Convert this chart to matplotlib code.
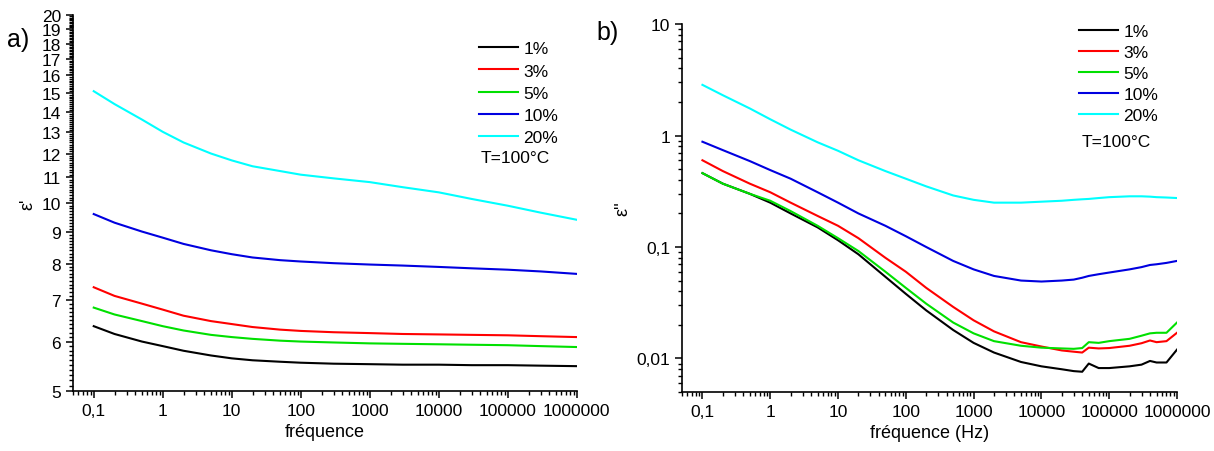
import matplotlib
matplotlib.use('Agg')
import matplotlib.pyplot as plt
import matplotlib.ticker as mticker

plt.rcParams['font.family'] = ['Liberation Sans', 'DejaVu Sans']

labels = ['1%', '3%', '5%', '10%', '20%']
colors = ['black', 'red', '#00e000', '#0000e0', 'cyan']

# a) epsilon' vs frequency
freq_a = [0.1, 0.2, 0.5, 1, 2, 5, 10, 20, 50, 100, 300, 1000, 3000, 1e4, 3e4, 1e5, 3e5, 1e6]
eps1_1 = [6.35, 6.17, 6.0, 5.9, 5.8, 5.7, 5.64, 5.6, 5.57, 5.55, 5.53, 5.52, 5.51, 5.51, 5.5, 5.5, 5.49, 5.48]
eps1_3 = [7.33, 7.1, 6.9, 6.75, 6.6, 6.47, 6.4, 6.33, 6.27, 6.24, 6.21, 6.19, 6.17, 6.16, 6.15, 6.14, 6.12, 6.1]
eps1_5 = [6.8, 6.63, 6.47, 6.35, 6.25, 6.15, 6.1, 6.06, 6.02, 6.0, 5.98, 5.96, 5.95, 5.94, 5.93, 5.92, 5.9, 5.88]
eps1_10 = [9.6, 9.3, 9.0, 8.8, 8.6, 8.4, 8.28, 8.18, 8.1, 8.06, 8.01, 7.97, 7.94, 7.9, 7.86, 7.82, 7.77, 7.7]
eps1_20 = [15.1, 14.4, 13.6, 13.0, 12.5, 12.0, 11.7, 11.45, 11.25, 11.1, 10.95, 10.8, 10.6, 10.4, 10.15, 9.9, 9.65, 9.4]

# b) epsilon'' vs frequency
freq_b = [0.1, 0.2, 0.5, 1, 2, 5, 10, 20, 50, 100, 200, 500, 1000, 2000, 5000,
          1e4, 2e4, 3e4, 4e4, 5e4, 7e4, 1e5, 2e5, 3e5, 4e5, 5e5, 7e5, 1e6]
eps2_1 = [0.46, 0.37, 0.3, 0.25, 0.2, 0.15, 0.115, 0.086, 0.054, 0.038, 0.027, 0.018,
          0.0138, 0.0113, 0.0093, 0.0085, 0.008, 0.0077, 0.0076, 0.009, 0.0082, 0.0082,
          0.0085, 0.0088, 0.0095, 0.0092, 0.0092, 0.012]
eps2_3 = [0.6, 0.48, 0.37, 0.31, 0.25, 0.19, 0.155, 0.12, 0.08, 0.06, 0.043, 0.029,
          0.022, 0.0175, 0.014, 0.0128, 0.0118, 0.0115, 0.0113, 0.0125, 0.0123, 0.0124,
          0.013, 0.0137, 0.0145, 0.014, 0.0143, 0.017]
eps2_5 = [0.46, 0.37, 0.3, 0.26, 0.21, 0.155, 0.12, 0.092, 0.06, 0.043, 0.031, 0.021,
          0.0168, 0.0143, 0.013, 0.0125, 0.0123, 0.0122, 0.0124, 0.014, 0.0138, 0.0143,
          0.015, 0.016, 0.0168, 0.017, 0.017, 0.021]
eps2_10 = [0.88, 0.74, 0.59, 0.49, 0.41, 0.31, 0.25, 0.2, 0.155, 0.125, 0.1, 0.075,
           0.063, 0.055, 0.05, 0.049, 0.05, 0.051, 0.053, 0.055, 0.057, 0.059,
           0.063, 0.066, 0.069, 0.07, 0.072, 0.075]
eps2_20 = [2.85, 2.3, 1.75, 1.4, 1.13, 0.87, 0.73, 0.6, 0.48, 0.41, 0.35, 0.29,
           0.265, 0.25, 0.25, 0.255, 0.26, 0.265, 0.268, 0.27, 0.275, 0.28,
           0.285, 0.285, 0.283, 0.28, 0.278, 0.275]

xticks = [0.1, 1, 10, 100, 1000, 1e4, 1e5, 1e6]


def fr(v, pos=None):
    if v >= 1:
        return str(int(round(v)))
    return ('%g' % v).replace('.', ',')


def style(ax):
    for s in ['top', 'right']:
        ax.spines[s].set_visible(False)
    for s in ['left', 'bottom']:
        ax.spines[s].set_linewidth(1.2)
    ax.set_xscale('log')
    ax.set_xlim(0.05, 1e6)
    ax.set_xticks(xticks)
    ax.xaxis.set_major_formatter(mticker.FuncFormatter(fr))
    ax.xaxis.set_minor_locator(mticker.LogLocator(base=10, subs=range(2, 10), numticks=20))
    ax.xaxis.set_minor_formatter(mticker.NullFormatter())
    ax.tick_params(which='major', direction='out', length=5, width=1.1, labelsize=12.5)
    ax.tick_params(which='minor', direction='out', length=3, width=1.0)


leg_kw = dict(loc='upper left', frameon=False, borderaxespad=0, borderpad=0,
              handlelength=2.25, handletextpad=0.3, fontsize=12.5)

fig = plt.figure(figsize=(12.14, 4.52), dpi=100)

ax1 = fig.add_axes([0.0601, 0.1327, 0.415, 0.832])
for y, lab, c in zip([eps1_1, eps1_3, eps1_5, eps1_10, eps1_20], labels, colors):
    ax1.plot(freq_a, y, color=c, lw=1.5, label=lab)
style(ax1)
ax1.set_yscale('log')
ax1.set_ylim(5, 20)
ax1.set_yticks(range(5, 21))
ax1.yaxis.set_major_formatter(mticker.FuncFormatter(fr))
ax1.yaxis.set_minor_locator(mticker.MultipleLocator(0.1))
ax1.yaxis.set_minor_formatter(mticker.NullFormatter())
ax1.set_xlabel('fréquence', fontsize=13)
ax1.set_ylabel("ε'", fontsize=13)
ax1.legend(bbox_to_anchor=(0.806, 0.93), labelspacing=0.4, **leg_kw)
ax1.text(0.81, 0.62, 'T=100°C', transform=ax1.transAxes, fontsize=12.5, va='center')
fig.text(0.006, 0.912, 'a)', fontsize=18, va='center')

ax2 = fig.add_axes([0.5618, 0.1305, 0.4077, 0.814])
for y, lab, c in zip([eps2_1, eps2_3, eps2_5, eps2_10, eps2_20], labels, colors):
    ax2.plot(freq_b, y, color=c, lw=1.5, label=lab)
style(ax2)
ax2.set_yscale('log')
ax2.set_ylim(0.005, 10)
ax2.set_yticks([0.01, 0.1, 1, 10])
ax2.yaxis.set_major_formatter(mticker.FuncFormatter(fr))
ax2.yaxis.set_minor_locator(mticker.LogLocator(base=10, subs=range(2, 10), numticks=20))
ax2.yaxis.set_minor_formatter(mticker.NullFormatter())
ax2.set_xlabel('fréquence (Hz)', fontsize=13)
ax2.set_ylabel("ε''", fontsize=13)
ax2.legend(bbox_to_anchor=(0.802, 1.0), labelspacing=0.33, **leg_kw)
ax2.text(0.808, 0.68, 'T=100°C', transform=ax2.transAxes, fontsize=12.5, va='center')
fig.text(0.491, 0.927, 'b)', fontsize=18, va='center')

fig.savefig('out.png', dpi=100)
